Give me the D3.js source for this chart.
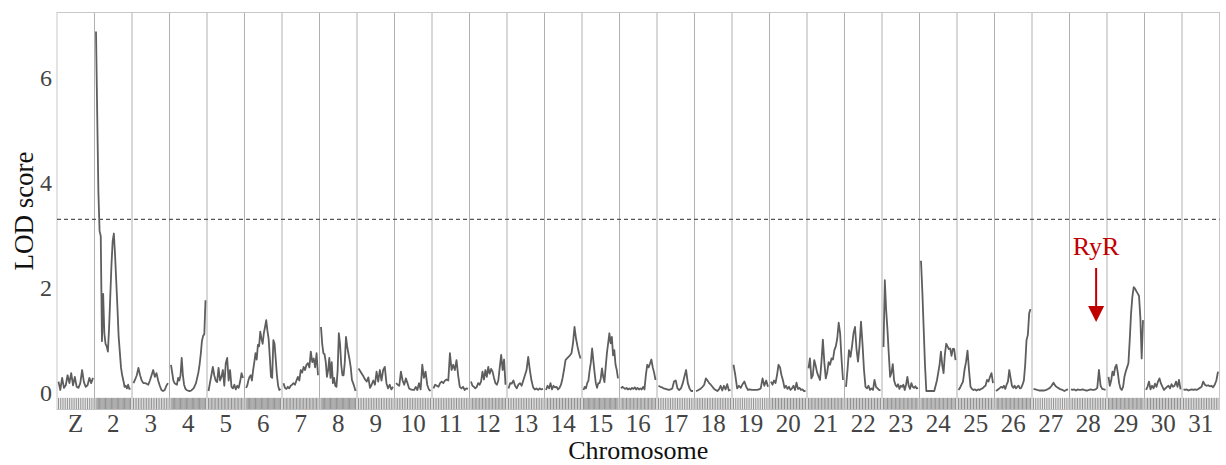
<!DOCTYPE html>
<html><head><meta charset="utf-8">
<script src="https://cdn.jsdelivr.net/npm/d3@7"></script>
<style>html,body{margin:0;padding:0;background:#fff;}svg{display:block;}</style>
</head><body>
<svg id="chart" width="1226" height="465"></svg>
<script>
// ---- data ----
const chromosomes = ["Z","2","3","4","5","6","7","8","9","10","11","12","13","14","15","16","17","18","19","20","21","22","23","24","25","26","27","28","29","30","31"];
const chrZ = [0.18,0.02,0.25,0.06,0.11,0.3,0.15,0.34,0.11,0.27,0.08,0.06,0.15,0.4,0.17,0.08,0.11,0.25,0.15,0.25];
const chr2 = [6.85,5.3,3.8,3.05,2.95,0.95,1.85,1.1,0.9,0.85,0.75,1.2,1.8,2.4,2.85,3.0,2.6,2.1,1.6,1.05,0.75,0.45,0.3,0.2,0.08,0.1,0.05,0.12,0.04,0.05];
const chr3 = [0.15,0.22,0.3,0.44,0.3,0.2,0.15,0.15,0.14,0.12,0.2,0.3,0.4,0.27,0.34,0.2,0.1,0.02,0.0,0.02,0.1,0.15];
const chr4 = [0.5,0.35,0.2,0.15,0.13,0.12,0.25,0.2,0.3,0.63,0.3,0.12,0.05,0.02,0.01,0.0,0.0,0.01,0.03,0.05,0.1,0.15,0.25,0.35,0.5,0.7,0.95,1.05,1.08,1.73];
const chr5 = [0.0,0.15,0.3,0.46,0.3,0.2,0.17,0.44,0.2,0.27,0.4,0.1,0.53,0.63,0.2,0.4,0.08,0.05,0.12,0.03,0.1,0.06,0.18,0.34,0.25];
const chr6 = [0.06,0.1,0.2,0.27,0.3,0.2,0.4,0.55,0.72,0.6,0.88,0.85,1.13,1.0,0.9,1.1,1.22,1.35,1.15,1.0,0.65,0.27,0.25,0.97,0.9,0.6,0.3,0.1,0.02,0.04];
const chr7 = [0.15,0.06,0.04,0.08,0.05,0.1,0.12,0.15,0.12,0.2,0.27,0.2,0.4,0.35,0.46,0.4,0.5,0.53,0.45,0.75,0.55,0.62,0.45,0.72,0.3];
const chr8 = [1.22,0.9,0.72,0.7,0.55,0.27,0.4,0.63,0.25,0.55,0.15,0.25,0.1,0.08,0.4,1.1,0.9,0.5,0.3,0.3,0.55,1.03,0.85,0.72,0.6,0.45,0.21,0.15,0.08,0.0];
const chr9 = [0.43,0.38,0.33,0.28,0.22,0.18,0.26,0.06,0.12,0.2,0.12,0.37,0.18,0.4,0.2,0.4,0.46,0.15,0.05,0.12,0.03,0.08];
const chr10 = [0.15,0.12,0.1,0.37,0.2,0.12,0.24,0.15,0.05,0.03,0.02,0.02,0.08,0.02,0.15,0.03,0.5,0.25,0.37,0.12,0.03,0.0];
const chr11 = [0.05,0.12,0.1,0.08,0.15,0.18,0.15,0.2,0.22,0.2,0.72,0.4,0.5,0.4,0.59,0.3,0.08,0.05,0.08,0.02,0.05,0.04];
const chr12 = [0.18,0.1,0.08,0.05,0.08,0.15,0.12,0.18,0.37,0.22,0.4,0.27,0.46,0.33,0.42,0.37,0.25,0.15,0.12,0.2,0.45,0.69,0.4,0.6,0.12];
const chr13 = [0.05,0.15,0.14,0.2,0.1,0.05,0.12,0.15,0.1,0.2,0.3,0.4,0.65,0.4,0.2,0.07,0.03,0.05,0.02,0.05,0.03,0.04];
const chr14 = [0.02,0.1,0.05,0.15,0.03,0.1,0.07,0.08,0.03,0.06,0.12,0.24,0.4,0.59,0.62,0.65,0.68,0.72,0.91,1.22,1.0,0.85,0.72,0.62];
const chr15 = [0.02,0.08,0.05,0.15,0.2,0.4,0.55,0.81,0.58,0.35,0.15,0.06,0.15,0.15,0.24,0.43,0.27,0.17,0.46,0.72,0.91,1.1,0.91,1.03,0.68,0.78,0.5,0.4,0.24];
const chr16 = [0.05,0.08,0.06,0.04,0.06,0.03,0.05,0.03,0.06,0.04,0.07,0.03,0.06,0.03,0.05,0.03,0.08,0.03,0.3,0.5,0.45,0.52,0.6,0.45,0.35,0.21];
const chr17 = [0.1,0.08,0.07,0.05,0.04,0.03,0.02,0.03,0.05,0.18,0.2,0.05,0.02,0.05,0.14,0.27,0.4,0.15,0.05,0.0,0.0];
const chr18 = [0.0,0.01,0.03,0.05,0.08,0.12,0.24,0.2,0.15,0.12,0.08,0.04,0.02,0.0,0.03,0.1,0.01,0.1,0.03,0.13,0.01,0.02];
const chr19 = [0.5,0.3,0.05,0.1,0.06,0.13,0.18,0.08,0.02,0.03,0.02,0.02,0.02,0.02,0.03,0.05,0.24,0.1,0.2,0.08];
const chr20 = [0.18,0.12,0.2,0.15,0.3,0.5,0.45,0.3,0.2,0.06,0.1,0.04,0.08,0.02,0.05,0.1,0.02,0.16,0.04,0.06,0.02,0.03,0.0,0.0];
const chr21 = [0.43,0.62,0.24,0.3,0.59,0.48,0.35,0.28,0.21,0.55,0.98,0.55,0.24,0.35,0.55,0.5,0.62,0.6,0.78,0.85,1.0,1.3,1.1,0.6,0.21];
const chr22 = [0.08,0.4,0.78,0.65,0.85,1.1,1.22,0.8,0.56,0.85,1.32,0.9,0.4,0.08,0.05,0.1,0.02,0.05,0.02,0.21,0.08,0.05,0.02,0.01];
const chr23 = [0.84,2.11,1.54,1.16,0.7,0.27,0.35,0.51,0.2,0.12,0.08,0.13,0.04,0.1,0.08,0.12,0.02,0.12,0.27,0.1,0.04,0.15,0.08,0.06,0.09,0.05,0.06];
const chr24 = [2.48,1.9,1.2,0.5,0.0,0.0,0.0,0.0,0.0,0.0,0.0,0.1,0.2,0.35,0.5,0.75,0.5,0.34,0.7,0.9,0.85,0.8,0.81,0.67,0.8,0.8,0.59];
const chr25 = [0.02,0.06,0.12,0.18,0.4,0.55,0.77,0.4,0.08,0.04,0.02,0.03,0.01,0.03,0.02,0.04,0.05,0.08,0.1,0.21,0.18,0.27,0.34,0.15];
const chr26 = [0.0,0.02,0.04,0.06,0.08,0.06,0.1,0.04,0.12,0.18,0.4,0.25,0.1,0.06,0.1,0.05,0.08,0.1,0.05,0.06,0.12,0.2,0.5,0.97,1.07,1.48,1.56];
const chr27 = [0.04,0.03,0.02,0.01,0.01,0.01,0.01,0.02,0.04,0.06,0.1,0.16,0.1,0.07,0.05,0.03,0.02,0.0,0.02,0.03];
const chr28 = [0.03,0.02,0.03,0.01,0.03,0.02,0.02,0.03,0.02,0.01,0.01,0.02,0.03,0.02,0.02,0.03,0.06,0.4,0.1,0.04,0.03,0.02];
const chr29 = [0.27,0.1,0.2,0.37,0.3,0.45,0.5,0.35,0.15,0.05,0.02,0.08,0.27,0.37,0.45,0.53,0.97,1.48,1.8,1.98,1.95,1.9,1.86,1.81,1.4,0.62,1.35];
const chr30 = [0.02,0.08,0.18,0.03,0.1,0.05,0.14,0.08,0.18,0.24,0.14,0.08,0.02,0.05,0.08,0.1,0.05,0.13,0.08,0.1,0.18,0.08,0.21,0.03];
const chr31 = [0.03,0.02,0.03,0.01,0.02,0.03,0.02,0.03,0.02,0.04,0.06,0.08,0.18,0.12,0.1,0.11,0.09,0.1,0.07,0.12,0.2,0.37];
const lodSeries = [chrZ,chr2,chr3,chr4,chr5,chr6,chr7,chr8,chr9,chr10,chr11,chr12,chr13,chr14,chr15,chr16,chr17,chr18,chr19,chr20,chr21,chr22,chr23,chr24,chr25,chr26,chr27,chr28,chr29,chr30,chr31];
const yTicks = [0, 2, 4, 6];
const threshold = 3.27;
const annotLabel = "RyR";
const annotChrom = "28";
const annotPos = 0.71; // fraction along chromosome
const yLabel = "LOD score";
const xLabel = "Chromosome";

// ---- drawing ----
(function () {
const svg = d3.select("#chart");
const pLeft = 57, pRight = 1219.5, pTop = 12.5, pBottom = 409.5;
const x = d3.scaleBand().domain(chromosomes).range([pLeft, pRight]).padding(0);
const y = d3.scaleLinear().domain([-0.352, 7.21]).range([pBottom, pTop]);
const font = "'Liberation Serif','Times New Roman',serif";

// separators
svg.append("g").selectAll("line").data(chromosomes.slice(1)).join("line")
  .attr("x1", d => x(d)).attr("x2", d => x(d))
  .attr("y1", pTop).attr("y2", pBottom)
  .attr("stroke", "#b0b0b0").attr("stroke-width", 1);

// frame
svg.append("rect").attr("x", pLeft).attr("y", pTop)
  .attr("width", pRight - pLeft).attr("height", pBottom - pTop)
  .attr("fill", "none").attr("stroke", "#c8c8c8").attr("stroke-width", 1);

// threshold
svg.append("line").attr("x1", pLeft).attr("x2", pRight)
  .attr("y1", y(threshold)).attr("y2", y(threshold))
  .attr("stroke", "#555").attr("stroke-width", 1.2).attr("stroke-dasharray", "4,3");

const inset = 1.5;
chromosomes.forEach((c, i) => {
  const vals = lodSeries[i];
  const xs = d3.scaleLinear().domain([0, vals.length - 1])
    .range([x(c) + inset, x(c) + x.bandwidth() - inset]);
  // rug
  svg.append("g").selectAll("line").data(vals).join("line")
    .attr("x1", (d, k) => xs(k)).attr("x2", (d, k) => xs(k))
    .attr("y1", y(-0.13)).attr("y2", y(-0.345))
    .attr("stroke", "#222").attr("stroke-opacity", 0.55).attr("stroke-width", 0.9);
  // curve
  svg.append("path").datum(vals)
    .attr("d", d3.line().x((d, k) => xs(k)).y(d => y(d)))
    .attr("fill", "none").attr("stroke", "#5e5e5e")
    .attr("stroke-width", 1.8).attr("stroke-linejoin", "round");
});

// y tick labels
svg.append("g").selectAll("text").data(yTicks).join("text")
  .attr("x", 52).attr("y", d => y(d) + 2)
  .attr("text-anchor", "end").attr("dominant-baseline", "central")
  .attr("font-family", font).attr("font-size", 24).attr("fill", "#444")
  .text(d => d);

// chromosome labels
svg.append("g").selectAll("text").data(chromosomes).join("text")
  .attr("x", d => x(d) + x.bandwidth() / 2).attr("y", 432)
  .attr("text-anchor", "middle")
  .attr("font-family", font).attr("font-size", 25).attr("fill", "#444")
  .text(d => d);

// axis titles
svg.append("text").attr("x", (pLeft + pRight) / 2).attr("y", 459)
  .attr("text-anchor", "middle").attr("font-family", font)
  .attr("font-size", 26).attr("fill", "#111").text(xLabel);
svg.append("text").attr("transform", "translate(33,211) rotate(-90)")
  .attr("text-anchor", "middle").attr("font-family", font)
  .attr("font-size", 27).attr("fill", "#111").text(yLabel);

// annotation
const ax = x(annotChrom) + x.bandwidth() * annotPos;
const red = "#c00000";
svg.append("text").attr("x", ax).attr("y", 255)
  .attr("text-anchor", "middle").attr("font-family", font)
  .attr("font-size", 26).attr("fill", red).text(annotLabel);
svg.append("line").attr("x1", ax).attr("x2", ax).attr("y1", 268).attr("y2", 308)
  .attr("stroke", red).attr("stroke-width", 2);
svg.append("path")
  .attr("d", `M${ax - 8},306 L${ax + 8},306 L${ax},322 Z`)
  .attr("fill", red);
})();
</script>
</body></html>
